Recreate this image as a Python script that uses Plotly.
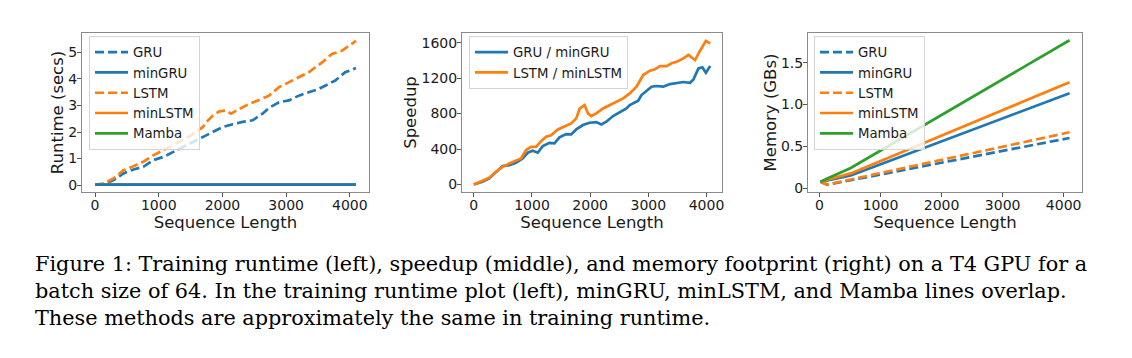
import plotly.graph_objects as go

# The page adds an 8px body margin; reference pixel (X, Y) -> figure pixel (X-8, Y-8)
OFF = 8
W, H = 1132 - OFF, 358 - OFF

# ---------------- data ----------------
# Runtime (secs) vs sequence length
gru_rt_x = [0, 135, 291, 447, 603, 758, 914, 1070, 1278, 1486, 1642, 1849, 2005, 2161, 2317,
            2473, 2629, 2732, 2888, 3044, 3200, 3356, 3512, 3668, 3771, 3927, 4096]
gru_rt_y = [0.02, 0.04, 0.19, 0.44, 0.59, 0.69, 0.94, 1.06, 1.31, 1.56, 1.75, 2.0, 2.19, 2.29, 2.38,
            2.44, 2.69, 2.91, 3.12, 3.19, 3.37, 3.5, 3.62, 3.81, 3.94, 4.25, 4.41]
lstm_rt_x = [0, 135, 291, 447, 603, 758, 914, 1070, 1278, 1486, 1694, 1745, 1849, 1953, 2057,
             2135, 2265, 2421, 2577, 2732, 2888, 3044, 3200, 3356, 3460, 3564, 3719, 3875, 4096]
lstm_rt_y = [0.02, 0.06, 0.25, 0.56, 0.71, 0.88, 1.12, 1.31, 1.56, 1.84, 2.19, 2.37, 2.62, 2.78, 2.81,
             2.69, 2.87, 3.06, 3.21, 3.37, 3.69, 3.87, 4.06, 4.25, 4.44, 4.62, 4.94, 5.06, 5.43]
min_rt_x = [0, 1024, 2048, 3072, 4096]
mingru_rt_y = [0.02, 0.02, 0.02, 0.02, 0.02]
minlstm_rt_y = [0.02, 0.02, 0.02, 0.02, 0.02]
mamba_rt_y = [0.02, 0.02, 0.02, 0.02, 0.02]

# Speedup vs sequence length
gru_sp_x = [0, 150, 265, 380, 495, 610, 725, 840, 927, 1013, 1099, 1186, 1301, 1387, 1473, 1588,
            1675, 1761, 1876, 1991, 2106, 2193, 2279, 2394, 2509, 2624, 2682, 2768, 2826, 2883,
            2970, 3056, 3142, 3257, 3373, 3488, 3603, 3718, 3776, 3862, 3930, 3990, 4064]
gru_sp_y = [0, 30, 68, 143, 207, 218, 245, 294, 358, 380, 358, 433, 470, 463, 531, 568,
            565, 621, 670, 696, 704, 678, 708, 772, 817, 858, 896, 922, 945, 1009,
            1054, 1103, 1111, 1103, 1133, 1148, 1156, 1148, 1186, 1310, 1321, 1261, 1336]
lstm_sp_x = [0, 150, 265, 380, 495, 610, 725, 812, 898, 984, 1070, 1157, 1243, 1329, 1445, 1560,
             1675, 1761, 1819, 1905, 1963, 2020, 2106, 2222, 2337, 2452, 2567, 2682, 2797, 2912,
             3027, 3114, 3200, 3315, 3401, 3488, 3603, 3689, 3804, 3880, 3990, 4064]
lstm_sp_y = [0, 38, 75, 143, 199, 236, 264, 294, 388, 425, 425, 489, 538, 556, 621, 651,
             689, 746, 855, 896, 802, 772, 802, 858, 896, 937, 971, 1028, 1103, 1235,
             1284, 1299, 1336, 1336, 1367, 1385, 1423, 1461, 1404, 1498, 1620, 1590]

# Memory (GBs) vs sequence length
mem_x = [16, 128, 512, 1024, 2048, 4096]
gru_mem = [0.075, 0.040, 0.094, 0.166, 0.311, 0.600]
mingru_mem = [0.075, 0.093, 0.150, 0.291, 0.572, 1.136]
lstm_mem = [0.075, 0.042, 0.103, 0.184, 0.346, 0.668]
minlstm_mem = [0.075, 0.100, 0.176, 0.332, 0.644, 1.268]
mamba_mem = [0.075, 0.115, 0.240, 0.459, 0.896, 1.770]

caption_lines = [
    "Figure 1: Training runtime (left), speedup (middle), and memory footprint (right) on a T4 GPU for a",
    "batch size of 64. In the training runtime plot (left), minGRU, minLSTM, and Mamba lines overlap.",
    "These methods are approximately the same in training runtime.",
]

BLUE, ORANGE, GREEN = "#1f77b4", "#ff7f0e", "#2ca02c"
LW = 2.7
DASH = "9px,4px"


def fx(X):
    return (X - OFF) / W


def fy(Y):
    return 1 - (Y - OFF) / H


fig = go.Figure()


def add(x, y, name, color, dash, xa, ya, leg, rank):
    fig.add_trace(go.Scatter(
        x=x, y=y, name=name, mode="lines",
        line=dict(color=color, width=LW, dash=dash),
        xaxis=xa, yaxis=ya, legend=leg, legendrank=rank, showlegend=True,
    ))


# Panel 1 (minGRU drawn last so it is the visible flat line)
add(gru_rt_x, gru_rt_y, "GRU", BLUE, DASH, "x", "y", "legend", 1)
add(lstm_rt_x, lstm_rt_y, "LSTM", ORANGE, DASH, "x", "y", "legend", 3)
add(min_rt_x, mamba_rt_y, "Mamba", GREEN, "solid", "x", "y", "legend", 5)
add(min_rt_x, minlstm_rt_y, "minLSTM", ORANGE, "solid", "x", "y", "legend", 4)
add(min_rt_x, mingru_rt_y, "minGRU", BLUE, "solid", "x", "y", "legend", 2)

# Panel 2
add(gru_sp_x, gru_sp_y, "GRU / minGRU", BLUE, "solid", "x2", "y2", "legend2", 1)
add(lstm_sp_x, lstm_sp_y, "LSTM / minLSTM", ORANGE, "solid", "x2", "y2", "legend2", 2)

# Panel 3
add(mem_x, gru_mem, "GRU", BLUE, DASH, "x3", "y3", "legend3", 1)
add(mem_x, mingru_mem, "minGRU", BLUE, "solid", "x3", "y3", "legend3", 2)
add(mem_x, lstm_mem, "LSTM", ORANGE, DASH, "x3", "y3", "legend3", 3)
add(mem_x, minlstm_mem, "minLSTM", ORANGE, "solid", "x3", "y3", "legend3", 4)
add(mem_x, mamba_mem, "Mamba", GREEN, "solid", "x3", "y3", "legend3", 5)

TICKFONT = dict(family="DejaVu Sans", size=14, color="#1a1a1a")
TITLEFONT = dict(family="DejaVu Sans", size=16.5, color="#1a1a1a")
FRAME = "#8a8a8a"
TOP, BOTTOM = 33, 192


def xaxis(left, right, rng, anchor):
    return dict(domain=[fx(left), fx(right)], range=rng, anchor=anchor,
                tickvals=[0, 1000, 2000, 3000, 4000], tickfont=TICKFONT,
                title=dict(text="Sequence Length", font=TITLEFONT, standoff=0),
                showline=True, mirror=True, linecolor=FRAME, linewidth=1,
                ticks="outside", ticklen=4, tickcolor="#555", tickwidth=1,
                ticklabelstandoff=-4,
                showgrid=False, zeroline=False, automargin=False)


def yaxis(rng, vals, text, title, anchor):
    return dict(domain=[fy(BOTTOM), fy(TOP)], range=rng, anchor=anchor,
                tickvals=vals, ticktext=text, tickfont=TICKFONT,
                title=dict(text=title, font=TITLEFONT, standoff=0),
                showline=True, mirror=True, linecolor=FRAME, linewidth=1,
                ticks="outside", ticklen=4, tickcolor="#555", tickwidth=1,
                ticklabelstandoff=-3,
                showgrid=False, zeroline=False, automargin=False)


LEGFONT = dict(family="DejaVu Sans", size=13.3, color="#1a1a1a")


def legend(left):
    return dict(x=fx(left), y=fy(36), xanchor="left", yanchor="top",
                xref="paper", yref="paper", bgcolor="rgba(255,255,255,0.8)",
                bordercolor="#d4d4d4", borderwidth=1, font=LEGFONT,
                tracegroupgap=0, itemwidth=33)


caption = dict(
    text="<br>".join(caption_lines), x=fx(34), y=fy(291), xref="paper", yref="paper",
    xanchor="left", yanchor="middle", align="left", showarrow=False, borderpad=0,
    font=dict(family="DejaVu Serif", size=20.8, color="#000"))

fig.update_layout(
    width=W, height=H, margin=dict(l=0, r=0, t=0, b=0),
    template="none", paper_bgcolor="white", plot_bgcolor="white",
    xaxis=xaxis(82, 369, [-205, 4301], "y"),
    yaxis=yaxis([-0.26, 5.73], [0, 1, 2, 3, 4, 5], ["0", "1", "2", "3", "4", "5"],
                "Runtime (secs)", "x"),
    xaxis2=xaxis(462, 722, [-203, 4267], "y2"),
    yaxis2=yaxis([-85, 1709], [0, 400, 800, 1200, 1600], ["0", "400", "800", "1200", "1600"],
                 "Speedup", "x2"),
    xaxis3=xaxis(808, 1082, [-188, 4300], "y3"),
    yaxis3=yaxis([-0.047, 1.857], [0, 0.5, 1.0, 1.5], ["0", "0.5", "1.0", "1.5"],
                 "Memory (GBs)", "x3"),
    legend=legend(89), legend2=legend(469), legend3=legend(814),
    annotations=[caption],
)

fig.write_html("out.html")
